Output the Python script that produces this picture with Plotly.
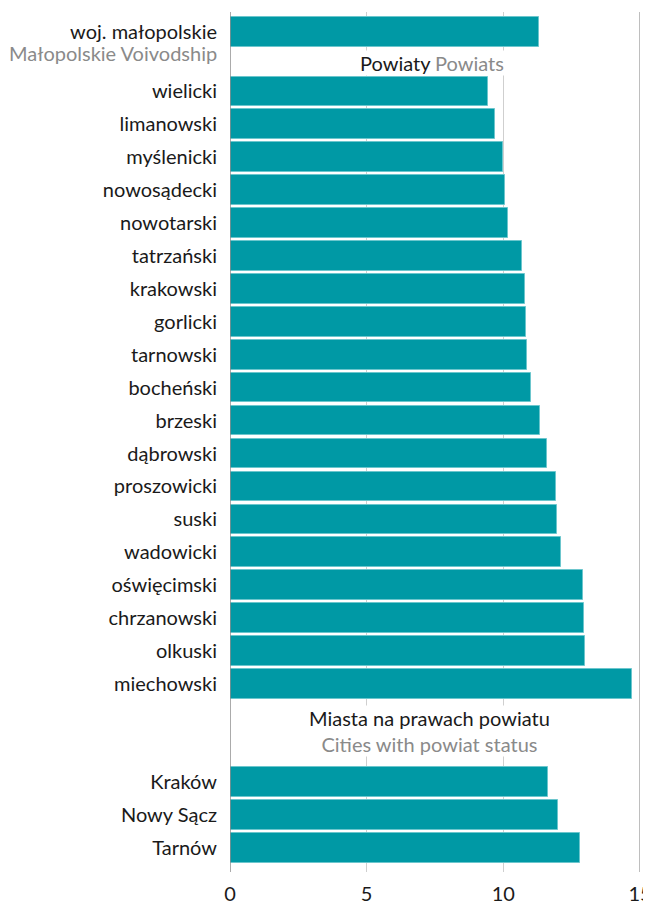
import plotly.graph_objects as go

# ---- data ----
region_pl = ["woj. małopolskie"]
region_en = ["Małopolskie Voivodship"]
region_values = [11.3]

powiaty = ["wielicki", "limanowski", "myślenicki", "nowosądecki", "nowotarski",
           "tatrzański", "krakowski", "gorlicki", "tarnowski", "bocheński",
           "brzeski", "dąbrowski", "proszowicki", "suski", "wadowicki",
           "oświęcimski", "chrzanowski", "olkuski", "miechowski"]
powiaty_values = [9.45, 9.7, 10.0, 10.07, 10.18, 10.7, 10.78, 10.82, 10.85, 11.0,
                  11.35, 11.6, 11.92, 11.96, 12.1, 12.93, 12.95, 12.99, 14.7]

cities = ["Kraków", "Nowy Sącz", "Tarnów"]
cities_values = [11.65, 12.0, 12.8]

x_ticks = [0, 5, 10, 15]

section_powiaty = ("Powiaty", "Powiats")
section_cities = ("Miasta na prawach powiatu", "Cities with powiat status")

# ---- layout positions (row slots with gaps between groups) ----
GAP1 = 1.8
GAP2 = 2.98
pos_region = [0.0]
pos_powiaty = [GAP1 + i for i in range(len(powiaty))]
pos_cities = [pos_powiaty[-1] + GAP2 + i for i in range(len(cities))]

GRAY = "#8a8a8a"
TEXT = "#1a1a1a"
TEAL = "#0099a5"
FS = 20

labels = region_pl + powiaty + cities
positions = pos_region + pos_powiaty + pos_cities
values = region_values + powiaty_values + cities_values

fig = go.Figure()
fig.add_trace(go.Bar(
    x=values, y=positions, orientation="h", width=0.9,
    marker=dict(color=TEAL, line=dict(color="#6cc6cd", width=1)),
    hoverinfo="x",
))

font_family = "Lato, 'Open Sans', sans-serif"

# page body has an 8px default margin; figure offset accounts for it
fig.update_layout(
    width=651, height=897,
    margin=dict(l=222, r=19, t=4, b=33),
    plot_bgcolor="white", paper_bgcolor="white",
    showlegend=False,
    font=dict(family=font_family, size=FS, color=TEXT),
    bargap=0,
    xaxis=dict(
        range=[0, 15], tickvals=x_ticks, ticktext=[str(t) for t in x_ticks],
        showgrid=True, gridcolor="#cfcfcf", gridwidth=1,
        zeroline=False, showline=False,
        ticks="outside", ticklen=4, tickcolor="rgba(0,0,0,0)",
        tickfont=dict(size=FS, color=TEXT),
        ticklabeloverflow="allow",
        automargin=False, fixedrange=True,
    ),
    yaxis=dict(
        range=[pos_cities[-1] + 0.73, -0.61],
        tickvals=positions, ticktext=labels,
        showgrid=False, zeroline=False,
        showline=False,
        ticks="outside", ticklen=8, tickcolor="rgba(0,0,0,0)",
        tickfont=dict(size=FS, color=TEXT),
        automargin=False, fixedrange=True,
    ),
    shapes=[
        dict(type="line", xref="x", yref="paper", x0=0, x1=0, y0=0, y1=1,
             line=dict(color="#8f8f8f", width=1.5), layer="above"),
        dict(type="line", xref="x", yref="paper", x0=15, x1=15, y0=0, y1=1,
             line=dict(color="#a8a8a8", width=1.5), layer="below"),
    ],
    annotations=[
        dict(xref="paper", yref="y", x=0, y=pos_region[0], yshift=-21, xshift=-11,
             text=region_en[0], showarrow=False, xanchor="right", yanchor="middle",
             font=dict(size=FS, color=GRAY)),
        dict(xref="x", yref="y", x=7.40, y=(pos_region[0] + pos_powiaty[0]) / 2 + 0.05,
             text=f"{section_powiaty[0]} <span style='color:{GRAY}'>{section_powiaty[1]}</span>",
             showarrow=False, bgcolor="white", font=dict(size=FS, color=TEXT),
             xanchor="center", yanchor="middle", borderpad=0),
        dict(xref="x", yref="y", x=7.3, y=(pos_powiaty[-1] + pos_cities[0]) / 2 - 0.05,
             text=f"{section_cities[0]}<br><span style='color:{GRAY}'>{section_cities[1]}</span>",
             showarrow=False, bgcolor="white", font=dict(size=FS, color=TEXT),
             xanchor="center", yanchor="middle", borderpad=0),
    ],
)

fig.write_html("out.html")
